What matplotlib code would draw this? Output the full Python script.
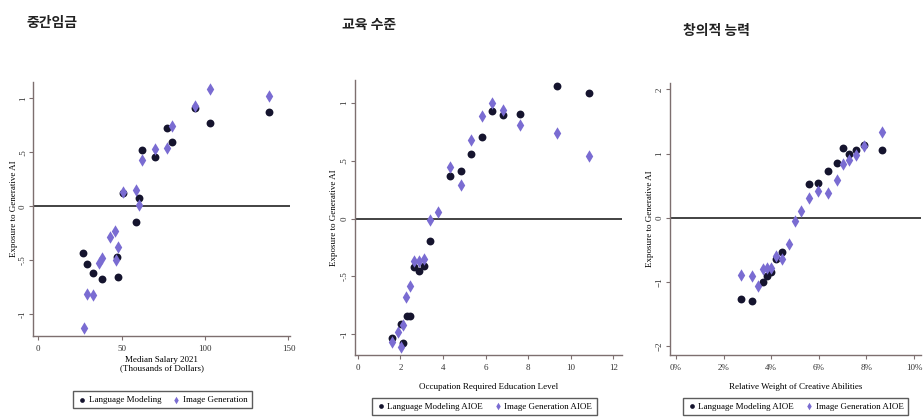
import matplotlib
matplotlib.use("Agg")
import matplotlib.pyplot as plt
from matplotlib.ticker import FuncFormatter

plt.rcParams['font.family'] = ['Liberation Serif', 'DejaVu Serif']

# --- panel 1: median salary ---
sal_lm_x = [27, 29.4, 33, 38.4, 47, 48, 58.4, 60.6, 62.4, 70, 77, 80.4, 103, 138.4, 50.6, 94]
sal_lm_y = [-0.43, -0.53, -0.62, -0.67, -0.47, -0.65, -0.14, 0.08, 0.52, 0.46, 0.73, 0.60, 0.77, 0.87, 0.12, 0.91]
sal_ig_x = [27.4, 29.4, 33, 36.6, 38.4, 43, 46, 46.6, 48, 50.6, 58.4, 60.6, 62.4, 70, 77, 80.4, 94, 103, 138.4]
sal_ig_y = [-1.13, -0.81, -0.82, -0.52, -0.48, -0.28, -0.23, -0.50, -0.38, 0.13, 0.15, 0.01, 0.43, 0.53, 0.54, 0.74, 0.93, 1.09, 1.02]

# --- panel 2: education level ---
edu_lm_x = [1.61, 2.11, 2.03, 2.30, 2.45, 2.66, 2.86, 3.13, 3.41, 4.33, 4.84, 5.31, 5.83, 6.28, 6.80, 7.64, 9.34, 10.86]
edu_lm_y = [-1.03, -1.08, -0.91, -0.84, -0.84, -0.42, -0.45, -0.41, -0.19, 0.37, 0.41, 0.56, 0.71, 0.93, 0.90, 0.91, 1.15, 1.09]
edu_ig_x = [1.61, 1.88, 2.03, 2.14, 2.27, 2.47, 2.66, 2.86, 3.13, 3.41, 3.78, 4.33, 4.84, 5.31, 5.83, 6.28, 6.80, 7.64, 9.34, 10.86]
edu_ig_y = [-1.07, -0.98, -1.11, -0.92, -0.68, -0.58, -0.37, -0.37, -0.35, -0.01, 0.06, 0.45, 0.29, 0.68, 0.89, 1.00, 0.94, 0.81, 0.74, 0.54]

# --- panel 3: creative abilities (%) ---
cre_lm_x = [2.74, 3.19, 3.64, 3.82, 3.98, 4.19, 4.47, 5.57, 5.96, 6.38, 6.75, 7.00, 7.26, 7.55, 7.90, 8.66]
cre_lm_y = [-1.27, -1.30, -1.00, -0.91, -0.85, -0.65, -0.53, 0.53, 0.54, 0.73, 0.85, 1.09, 1.00, 1.06, 1.13, 1.05]
cre_ig_x = [2.74, 3.19, 3.43, 3.64, 3.82, 3.98, 4.19, 4.47, 4.74, 5.02, 5.27, 5.57, 5.96, 6.38, 6.75, 7.00, 7.26, 7.55, 7.90, 8.66]
cre_ig_y = [-0.89, -0.91, -1.06, -0.80, -0.78, -0.78, -0.60, -0.65, -0.41, -0.05, 0.10, 0.30, 0.42, 0.39, 0.59, 0.83, 0.90, 0.98, 1.12, 1.33]

titles = ['중간임금', '교육 수준', '창의적 능력']

BLACK = '#15142e'
PURPLE = '#7a6cd2'
SPINE = '#7d6f6f'

fig = plt.figure(figsize=(9.24, 4.19), dpi=100)

ax1 = fig.add_axes([0.036, 0.198, 0.278, 0.606])
ax2 = fig.add_axes([0.384, 0.153, 0.289, 0.656])
ax3 = fig.add_axes([0.725, 0.153, 0.272, 0.649])


def style(ax):
    for s in ['top', 'right']:
        ax.spines[s].set_visible(False)
    for s in ['left', 'bottom']:
        ax.spines[s].set_color(SPINE)
        ax.spines[s].set_linewidth(1.0)
    ax.tick_params(colors=SPINE, labelcolor='#333333', labelsize=6.5, length=3, width=0.8)
    ax.tick_params(axis='y', pad=1.5)
    for lab in ax.get_yticklabels():
        lab.set_rotation(90)
        lab.set_va('center')
    ax.axhline(0, color='#222222', lw=1.2, zorder=1)


def draw(ax, lx, ly, ix, iy, labels):
    ax.scatter(lx, ly, s=32, marker='o', color=BLACK, label=labels[0], zorder=3, linewidths=0)
    ax.scatter(ix, iy, s=40, marker='d', color=PURPLE, label=labels[1], zorder=4, linewidths=0)


draw(ax1, sal_lm_x, sal_lm_y, sal_ig_x, sal_ig_y, ['Language Modeling', 'Image Generation'])
ax1.set_xlim(-3, 151)
ax1.set_ylim(-1.2, 1.15)
ax1.set_xticks([0, 50, 100, 150])
ax1.set_yticks([-1, -0.5, 0, 0.5, 1])
ax1.set_yticklabels(['-1', '-.5', '0', '.5', '1'])
style(ax1)
ax1.set_xlabel('Median Salary 2021\n(Thousands of Dollars)', fontsize=6.5, labelpad=2, linespacing=1.0)
ax1.set_ylabel('Exposure to Generative AI', fontsize=6.5, labelpad=1)

draw(ax2, edu_lm_x, edu_lm_y, edu_ig_x, edu_ig_y, ['Language Modeling AIOE', 'Image Generation AIOE'])
ax2.set_xlim(-0.14, 12.4)
ax2.set_ylim(-1.18, 1.2)
ax2.set_xticks([0, 2, 4, 6, 8, 10, 12])
ax2.set_yticks([-1, -0.5, 0, 0.5, 1])
ax2.set_yticklabels(['-1', '-.5', '0', '.5', '1'])
style(ax2)
ax2.set_xlabel('Occupation Required Education Level', fontsize=6.5, labelpad=8)
ax2.set_ylabel('Exposure to Generative AI', fontsize=6.5, labelpad=2)

draw(ax3, cre_lm_x, cre_lm_y, cre_ig_x, cre_ig_y, ['Language Modeling AIOE', 'Image Generation AIOE'])
ax3.set_xlim(-0.25, 10.3)
ax3.set_ylim(-2.14, 2.1)
ax3.set_xticks([0, 2, 4, 6, 8, 10])
ax3.xaxis.set_major_formatter(FuncFormatter(lambda v, p: f'{v:.0f}%'))
ax3.set_yticks([-2, -1, 0, 1, 2])
style(ax3)
ax3.set_xlabel('Relative Weight of Creative Abilities', fontsize=6.5, labelpad=8)
ax3.set_ylabel('Exposure to Generative AI', fontsize=6.5, labelpad=1)

legend_pos = [(0.176, 0.046), (0.524, 0.030), (0.861, 0.030)]
for ax, pos in zip([ax1, ax2, ax3], legend_pos):
    leg = ax.legend(loc='center', bbox_to_anchor=pos, bbox_transform=fig.transFigure,
                    ncol=2, fontsize=6.5, frameon=True, fancybox=False,
                    handletextpad=0.2, columnspacing=1.2, borderpad=0.5,
                    markerscale=0.6, handlelength=1.0)
    leg.get_frame().set_edgecolor('#333333')
    leg.get_frame().set_linewidth(1.0)

title_pos = [(0.029, 0.945), (0.370, 0.940), (0.739, 0.925)]
for t, (x, y) in zip(titles, title_pos):
    fig.text(x, y, t, fontsize=10, fontweight='bold', color='#222222',
             family=['Noto Sans CJK KR', 'DejaVu Sans'], ha='left', va='center')

fig.savefig('out.png', dpi=100, facecolor='white')
